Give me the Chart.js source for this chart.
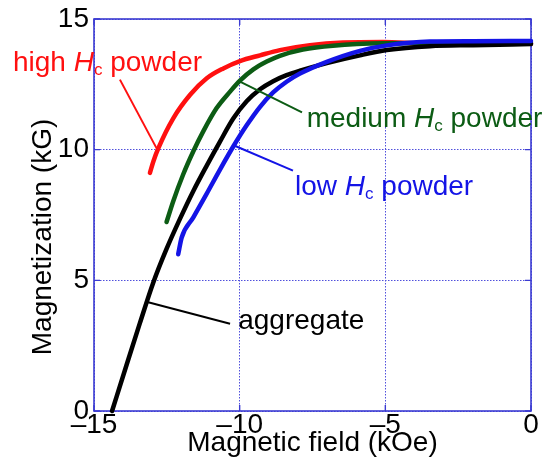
<!DOCTYPE html>
<html><head><meta charset="utf-8">
<script src="https://cdn.jsdelivr.net/npm/chart.js@4.4.1/dist/chart.umd.min.js"></script>
<style>html,body{margin:0;padding:0;background:#fff;}canvas{display:block;}</style>
</head><body>
<canvas id="c" width="557" height="468"></canvas>
<script>
// ---- data ----
const xTickValues = [-15, -10, -5, 0];
const yTickValues = [0, 5, 10, 15];
const xAxisTitle = 'Magnetic field (kOe)';
const yAxisTitle = 'Magnetization (kG)';

const aggregateField = [-14.38,-13.88,-13.42,-12.97,-12.51,-12.05,-11.59,-11.13,-10.68,-10.22,-9.76,-9.30,-8.85,-8.39,-7.93,-7.01,-5.87,-4.95,-3.47,-1.99,0];
const aggregateMag   = [0,1.77,3.38,4.90,6.20,7.35,8.42,9.39,10.30,11.19,11.85,12.31,12.62,12.85,13.02,13.31,13.61,13.81,13.96,14.00,14.04];

const lowField = [-12.11,-11.99,-11.59,-11.13,-10.68,-10.22,-9.76,-9.30,-8.85,-8.39,-7.93,-7.01,-5.87,-4.95,-3.47,-1.99,0];
const lowMag   = [6.00,6.64,7.41,8.32,9.23,10.12,10.93,11.64,12.19,12.60,12.91,13.36,13.78,13.99,14.14,14.15,14.16];

const mediumField = [-12.51,-12.28,-11.94,-11.59,-11.25,-10.79,-10.33,-9.99,-9.53,-9.07,-8.62,-7.83,-6.80,-5.08,-2.78,0];
const mediumMag   = [7.23,8.03,9.05,9.94,10.70,11.59,12.22,12.64,13.07,13.37,13.59,13.83,13.98,14.07,14.08,14.08];

const highField = [-13.08,-12.96,-12.79,-12.28,-11.70,-11.13,-10.56,-9.99,-9.30,-8.62,-7.59,-6.45,-5.08,-3.8,-2.0,0];
const highMag   = [9.11,9.56,10.06,11.20,12.10,12.73,13.11,13.39,13.61,13.81,14.00,14.10,14.12,14.07,14.05,14.05];

// ---- styling ----
const FONT = "'Liberation Sans', Arial, Helvetica, sans-serif";
const FRAME = '#3b3bd2';
const GRID = '#5050dc';
const RED = '#ff1010', GREEN = '#0c5c14', BLUE = '#1414e6', BLACK = '#000000';

function pts(xs, ys) { return xs.map((x, i) => ({x: x, y: ys[i]})); }

// annotation labels: anchor in data coordinates
const annotations = [
  {color: RED,   parts: [['high ', 'n'], ['H', 'i'], ['c', 's'], [' powder', 'n']], at: [-17.78, 13.02], line: [[-14.11, 12.68], [-12.85, 10.05]]},
  {color: GREEN, parts: [['medium ', 'n'], ['H', 'i'], ['c', 's'], [' powder', 'n']], at: [-7.70, 10.85], line: [[-9.99, 12.60], [-7.86, 11.43]]},
  {color: BLUE,  parts: [['low ', 'n'], ['H', 'i'], ['c', 's'], [' powder', 'n']], at: [-8.10, 8.26], line: [[-10.19, 10.16], [-8.17, 9.20]]},
  {color: BLACK, parts: [['aggregate', 'n']], at: [-10.05, 3.15], line: [[-13.14, 4.16], [-10.33, 3.34]]}
];

function drawParts(ctx, parts, x, y, color) {
  let cx = x;
  ctx.fillStyle = color;
  ctx.textAlign = 'left';
  ctx.textBaseline = 'alphabetic';
  for (const [t, st] of parts) {
    let dy = 0;
    if (st === 'i') ctx.font = 'italic 28px ' + FONT;
    else if (st === 's') { ctx.font = '17px ' + FONT; dy = 4; }
    else ctx.font = '28px ' + FONT;
    ctx.fillText(t, cx, y + dy);
    cx += ctx.measureText(t).width;
  }
}

const overlay = {
  id: 'overlay',
  beforeDatasetsDraw(chart) {
    const {ctx, chartArea: a, scales: {x, y}} = chart;
    ctx.save();
    ctx.strokeStyle = FRAME;
    ctx.lineWidth = 1.6;
    ctx.strokeRect(a.left, a.top, a.right - a.left, a.bottom - a.top);
    ctx.lineWidth = 1.4;
    ctx.beginPath();
    for (const v of xTickValues) {
      const px = x.getPixelForValue(v);
      ctx.moveTo(px, a.bottom); ctx.lineTo(px, a.bottom - 6);
      ctx.moveTo(px, a.top); ctx.lineTo(px, a.top + 6);
    }
    for (const v of yTickValues) {
      const py = y.getPixelForValue(v);
      ctx.moveTo(a.left, py); ctx.lineTo(a.left + 6, py);
      ctx.moveTo(a.right, py); ctx.lineTo(a.right - 6, py);
    }
    ctx.stroke();
    ctx.restore();
  },
  afterDatasetsDraw(chart) {
    const {ctx, chartArea: a, scales: {x, y}} = chart;
    ctx.save();
    for (const an of annotations) {
      ctx.strokeStyle = an.color;
      ctx.lineWidth = 2;
      ctx.beginPath();
      ctx.moveTo(x.getPixelForValue(an.line[0][0]), y.getPixelForValue(an.line[0][1]));
      ctx.lineTo(x.getPixelForValue(an.line[1][0]), y.getPixelForValue(an.line[1][1]));
      ctx.stroke();
      drawParts(ctx, an.parts, x.getPixelForValue(an.at[0]), y.getPixelForValue(an.at[1]), an.color);
    }
    // y axis title (placed slightly below the plot centre, as in the reference)
    ctx.translate(43.5, (a.top + a.bottom) / 2 + 22);
    ctx.rotate(-Math.PI / 2);
    ctx.font = '28px ' + FONT;
    ctx.fillStyle = '#000';
    ctx.textAlign = 'center';
    ctx.textBaseline = 'middle';
    ctx.fillText(yAxisTitle, 0, 0);
    ctx.restore();
  }
};

function ds(label, xs, ys, color) {
  return {label: label, data: pts(xs, ys), borderColor: color, backgroundColor: color,
          showLine: true, borderWidth: 4.5, pointRadius: 0, cubicInterpolationMode: 'monotone',
          borderCapStyle: 'round', borderJoinStyle: 'round', clip: false};
}

new Chart(document.getElementById('c'), {
  type: 'scatter',
  data: {datasets: [
    ds('low Hc powder', lowField, lowMag, BLUE),
    ds('aggregate', aggregateField, aggregateMag, BLACK),
    ds('medium Hc powder', mediumField, mediumMag, GREEN),
    ds('high Hc powder', highField, highMag, RED)
  ]},
  options: {
    responsive: false, animation: false, devicePixelRatio: 1,
    layout: {padding: {left: 0, top: 17, right: 26, bottom: 0}},
    plugins: {legend: {display: false}, tooltip: {enabled: false}},
    scales: {
      x: {
        type: 'linear', min: -15, max: 0,
        afterBuildTicks: s => { s.ticks = xTickValues.map(v => ({value: v})); },
        afterFit: s => { s.height = 57; },
        ticks: {color: '#000', font: {family: FONT, size: 28, lineHeight: 1}, padding: 0, maxRotation: 0, autoSkip: false,
                callback: v => v < 0 ? '\u2013' + Math.abs(v) : String(v)},
        grid: {color: GRID, lineWidth: 1, drawTicks: false},
        border: {display: false, dash: [1.5, 1.5]},
        title: {display: true, text: xAxisTitle, color: '#000', font: {family: FONT, size: 28, lineHeight: 1.2}, padding: {top: 0, bottom: 8}}
      },
      y: {
        type: 'linear', min: 0, max: 15,
        afterBuildTicks: s => { s.ticks = yTickValues.map(v => ({value: v})); },
        afterFit: s => { s.width = 94; },
        ticks: {color: '#000', font: {family: FONT, size: 28, lineHeight: 1}, padding: 5, autoSkip: false},
        grid: {color: GRID, lineWidth: 1, drawTicks: false},
        border: {display: false, dash: [1.5, 1.5]},
        title: {display: false, text: yAxisTitle}
      }
    }
  },
  plugins: [overlay]
});
</script>
</body></html>
